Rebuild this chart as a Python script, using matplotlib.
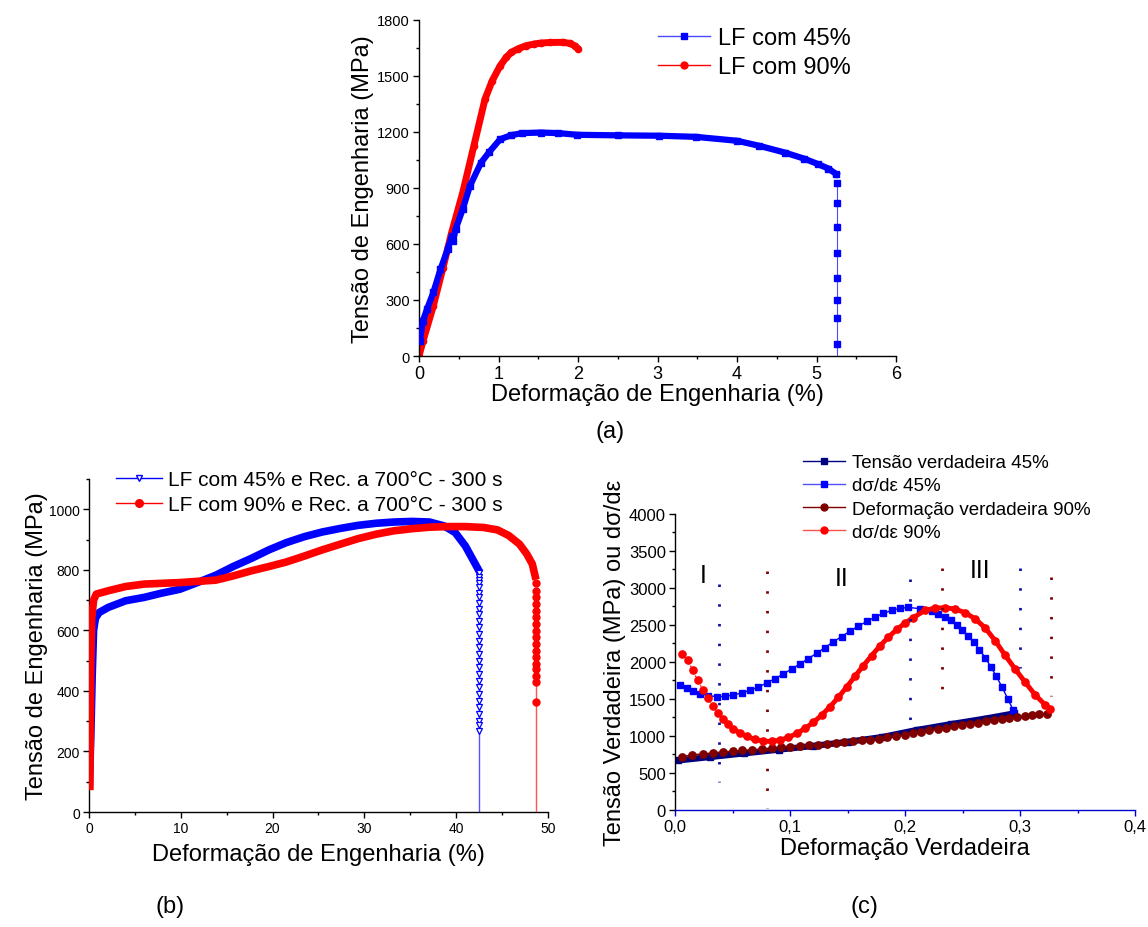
import matplotlib
matplotlib.use('Agg')
import matplotlib.pyplot as plt
from matplotlib.lines import Line2D
from matplotlib.ticker import MultipleLocator, FuncFormatter

plt.rcParams['font.family'] = ['Liberation Sans', 'DejaVu Sans']

# ---------------- (a) laminado a frio ----------------
strain_45 = [0.01, 0.05, 0.1, 0.18, 0.27, 0.36, 0.41, 0.43, 0.46, 0.55, 0.64, 0.78, 0.88,
             1.02, 1.16, 1.3, 1.53, 1.75, 1.99, 2.5, 3.02, 3.48, 4.0, 4.28, 4.6, 4.84,
             5.02, 5.15, 5.25]
stress_45 = [80, 190, 250, 340, 464, 571, 640, 615, 679, 786, 910, 1035, 1090,
             1160, 1182, 1193, 1196, 1193, 1184, 1181, 1179, 1173, 1152, 1125, 1089, 1057,
             1027, 1003, 973]
drop_45_strain = 5.26
drop_45_stress = [924, 821, 689, 550, 420, 300, 202, 62]

strain_90 = [0.0, 0.05, 0.18, 0.3, 0.41, 0.55, 0.69, 0.83, 0.92, 1.02, 1.1, 1.16, 1.25,
             1.34, 1.45, 1.53, 1.65, 1.81, 1.9, 1.96, 2.0]
stress_90 = [0, 80, 268, 470, 660, 875, 1125, 1375, 1473, 1553, 1600, 1625, 1645,
             1660, 1670, 1675, 1678, 1679, 1673, 1660, 1645]

# ---------------- (b) recozido 700 C - 300 s ----------------
strain_45r = [0.05, 0.2, 0.35, 0.5, 0.7, 1.1, 2.1, 4.0, 6.0, 7.9, 9.9, 11.8, 13.8, 15.7,
              17.7, 19.6, 21.5, 23.5, 25.4, 27.4, 29.3, 31.3, 33.2, 35.2, 37.1, 38.7,
              39.9, 41.0, 41.8, 42.4]
stress_45r = [100, 250, 450, 600, 640, 659, 676, 698, 709, 723, 736, 758, 782, 811,
              838, 866, 890, 910, 925, 937, 947, 954, 958, 960, 958, 945,
              923, 879, 835, 802]
drop_45r_strain = 42.45
drop_45r_stress = [790, 778, 767, 756, 742, 725, 709, 692, 672, 653, 632, 610, 588, 566,
                   544, 522, 500, 478, 456, 434, 412, 390, 368, 346, 324, 302, 286, 269]

strain_90r = [0.1, 0.15, 0.2, 0.3, 0.5, 0.8, 2.1, 4.0, 6.0, 9.9, 13.8, 15.7, 17.7,
              19.6, 21.5, 23.5, 25.4, 27.4, 29.3, 31.3, 33.2, 35.2, 37.1, 39.1, 41.0,
              43.0, 44.5, 45.7, 46.9, 47.7, 48.3, 48.6]
stress_90r = [85, 300, 500, 640, 700, 720, 731, 745, 753, 758, 766, 780, 797,
              811, 826, 846, 866, 885, 903, 918, 929, 936, 941, 943, 943,
              940, 932, 914, 885, 852, 819, 780]
drop_90r_strain = 48.7
drop_90r_stress = [758, 731, 709, 687, 665, 643, 621, 599, 577, 555, 533, 511, 489, 473,
                   451, 429, 363]

# ---------------- (c) tensao verdadeira e taxa de encruamento ----------------
true_strain_45 = [0.003, 0.03, 0.06, 0.09, 0.12, 0.15, 0.18, 0.21, 0.24, 0.27, 0.295]
true_stress_45 = [670, 715, 765, 815, 865, 920, 985, 1080, 1160, 1235, 1305]

rate_strain_45 = [0.0043, 0.0101, 0.0159, 0.0217, 0.029, 0.0362, 0.0435, 0.0507, 0.058,
                  0.0652, 0.0725, 0.0797, 0.087, 0.0942, 0.1014, 0.1087, 0.1159, 0.1232,
                  0.1304, 0.1377, 0.1449, 0.1522, 0.1594, 0.1667, 0.1739, 0.1812, 0.1884,
                  0.1957, 0.2029, 0.213, 0.2232, 0.229, 0.2348, 0.2397, 0.2449, 0.2499,
                  0.2545, 0.2597, 0.2646, 0.2696, 0.2745, 0.2794, 0.2843, 0.2893, 0.2942]
rate_45 = [1689, 1649, 1603, 1572, 1545, 1531, 1536, 1554, 1581,
           1617, 1662, 1716, 1775, 1838, 1906, 1973, 2046, 2118,
           2195, 2272, 2344, 2417, 2484, 2547, 2606, 2656, 2697,
           2724, 2737, 2720, 2688, 2652, 2607, 2561, 2498, 2426,
           2349, 2268, 2168, 2060, 1938, 1807, 1662, 1504, 1346]

true_strain_90 = [0.0064, 0.0151, 0.0246, 0.0333, 0.042, 0.0501, 0.0586, 0.067, 0.0754,
                  0.0841, 0.0922, 0.1003, 0.1084, 0.1165, 0.1246, 0.1322, 0.1397, 0.1472,
                  0.1551, 0.1623, 0.1699, 0.1771, 0.1843, 0.1919, 0.2, 0.2067, 0.214,
                  0.2212, 0.2284, 0.2354, 0.2426, 0.2496, 0.2565, 0.2635, 0.2701, 0.2771,
                  0.284, 0.2907, 0.2974, 0.3041, 0.3104, 0.3168, 0.3232]
true_stress_90 = [722, 745, 759, 772, 786, 795, 804, 813, 822,
                  831, 845, 854, 863, 872, 881, 894, 903, 917,
                  931, 940, 949, 962, 980, 1003, 1011, 1034, 1052,
                  1075, 1089, 1107, 1130, 1143, 1166, 1179, 1197, 1211,
                  1229, 1243, 1256, 1269, 1278, 1292, 1301]

rate_strain_90 = [0.0064, 0.011, 0.0154, 0.0197, 0.0241, 0.0284, 0.0328, 0.0371, 0.0414,
                  0.0458, 0.0507, 0.0565, 0.0623, 0.0696, 0.0768, 0.0841, 0.0913, 0.0986,
                  0.1058, 0.113, 0.1203, 0.1275, 0.1348, 0.142, 0.1493, 0.1565, 0.1638,
                  0.171, 0.1783, 0.1855, 0.1928, 0.2, 0.2072, 0.2174, 0.2261, 0.2348,
                  0.2435, 0.2522, 0.2609, 0.2696, 0.2783, 0.287, 0.2957, 0.3043, 0.313,
                  0.3217, 0.326]
rate_90 = [2114, 2032, 1888, 1752, 1626, 1513, 1409, 1310, 1229,
           1160, 1097, 1039, 994, 953, 930, 926, 944, 980,
           1034, 1102, 1183, 1282, 1395, 1522, 1662, 1807, 1951,
           2087, 2218, 2335, 2439, 2525, 2600, 2697, 2729, 2733,
           2715, 2666, 2584, 2462, 2290, 2091, 1906, 1730, 1558,
           1423, 1364]

# limites dos estagios (x, y inferior, y superior)
stage_45 = [(0.038, 380, 3050), (0.204, 985, 3120), (0.300, 1920, 3265)]
stage_90 = [(0.080, 20, 3230), (0.232, 1400, 3274), (0.327, 1545, 3152)]
stage_names = ['I', 'II', 'III']
stage_label_x = [0.0244, 0.145, 0.265]
stage_label_y = [3175, 3129, 3243]

BLUE = '#0000ff'
RED = '#ff0000'
NAVY = '#000080'
DARKRED = '#800000'


def style_axis(ax, xfs, yfs):
    for s in ['top', 'right']:
        ax.spines[s].set_visible(False)
    for s in ['left', 'bottom']:
        ax.spines[s].set_linewidth(1.0)
    ax.tick_params(which='major', direction='out', length=4, width=1, pad=2.5)
    ax.tick_params(which='minor', direction='out', length=2.2, width=1)
    ax.tick_params(axis='x', labelsize=xfs)
    ax.tick_params(axis='y', labelsize=yfs)


fig = plt.figure(figsize=(11.48, 9.28), dpi=100)

# ---------- (a)
ax_a = fig.add_axes([0.3650, 0.6153, 0.4155, 0.3624])
ax_a.plot(strain_90, stress_90, color=RED, lw=5, solid_capstyle='round', zorder=2)
ax_a.plot(strain_90, stress_90, 'o', color=RED, ms=4.5, zorder=2)
ax_a.plot(strain_45, stress_45, color=BLUE, lw=4.5, zorder=3)
ax_a.plot(strain_45, stress_45, 's', color=BLUE, ms=4, zorder=3)
ax_a.plot([drop_45_strain] * (len(drop_45_stress) + 1), drop_45_stress + [0],
          color='#4a4aff', lw=0.8, zorder=3)
ax_a.plot([drop_45_strain] * len(drop_45_stress), drop_45_stress, 's', color=BLUE, ms=4,
          zorder=3)
ax_a.set_xlim(0, 6)
ax_a.set_ylim(0, 1800)
ax_a.xaxis.set_major_locator(MultipleLocator(1))
ax_a.xaxis.set_minor_locator(MultipleLocator(0.5))
ax_a.yaxis.set_major_locator(MultipleLocator(300))
ax_a.yaxis.set_minor_locator(MultipleLocator(150))
style_axis(ax_a, 13, 10.5)
ax_a.set_xlabel('Deformação de Engenharia (%)', fontsize=17, labelpad=1)
ax_a.set_ylabel('Tensão de Engenharia (MPa)', fontsize=17, labelpad=2)
leg_a = [Line2D([], [], color='#4a4aff', lw=1, marker='s', mfc=BLUE, mec=BLUE, ms=4.5,
                label='LF com 45%'),
         Line2D([], [], color=RED, lw=1, marker='o', ms=5, label='LF com 90%')]
ax_a.legend(handles=leg_a, loc='upper left', bbox_to_anchor=(0.5732, 0.9694),
            bbox_transform=fig.transFigure, frameon=False, borderpad=0, borderaxespad=0,
            fontsize=17, handlelength=2.2, handletextpad=0.34, labelspacing=0.29)
fig.text(0.531, 0.534, '(a)', fontsize=17, ha='center', va='center')

# ---------- (b)
ax_b = fig.add_axes([0.0775, 0.1239, 0.3998, 0.3588])
ax_b.plot(strain_45r, stress_45r, color=BLUE, lw=5.5, zorder=2)
ax_b.plot([drop_45r_strain] * (len(drop_45r_stress) + 1), drop_45r_stress + [0],
          color='#5555ff', lw=1, zorder=2)
ax_b.plot([drop_45r_strain] * len(drop_45r_stress), drop_45r_stress, 'v', mfc='white',
          mec=BLUE, ms=5, mew=0.9, zorder=2)
ax_b.plot(strain_90r, stress_90r, color=RED, lw=5.5, zorder=3)
ax_b.plot([drop_90r_strain] * (len(drop_90r_stress) + 1), drop_90r_stress + [0],
          color='#ff5555', lw=1, zorder=3)
ax_b.plot([drop_90r_strain] * len(drop_90r_stress), drop_90r_stress, 'o', color=RED,
          ms=5, zorder=3)
ax_b.set_xlim(0, 50)
ax_b.set_ylim(0, 1100)
ax_b.xaxis.set_major_locator(MultipleLocator(10))
ax_b.xaxis.set_minor_locator(MultipleLocator(5))
ax_b.set_yticks([0, 200, 400, 600, 800, 1000])
ax_b.yaxis.set_minor_locator(MultipleLocator(100))
style_axis(ax_b, 10, 10)
ax_b.set_xlabel('Deformação de Engenharia (%)', fontsize=17, labelpad=6)
ax_b.set_ylabel('Tensão de Engenharia (MPa)', fontsize=17, labelpad=0.5)
leg_b = [Line2D([], [], color=BLUE, lw=1, marker='v', mfc='white', mec=BLUE, ms=5,
                label='LF com 45% e Rec. a 700°C - 300 s'),
         Line2D([], [], color=RED, lw=1, marker='o', ms=5.5,
                label='LF com 90% e Rec. a 700°C - 300 s')]
ax_b.legend(handles=leg_b, loc='upper left', bbox_to_anchor=(0.101, 0.4924),
            bbox_transform=fig.transFigure, frameon=False, borderpad=0, borderaxespad=0,
            fontsize=15, handlelength=2.2, handletextpad=0.29, labelspacing=0.29)
fig.text(0.148, 0.023, '(b)', fontsize=17, ha='center', va='center')

# ---------- (c)
ax_c = fig.add_axes([0.588, 0.1261, 0.4007, 0.3190])
ax_c.plot(true_strain_45, true_stress_45, color=NAVY, lw=4.5, zorder=2)
ax_c.plot(true_strain_45, true_stress_45, 's', color=NAVY, ms=4.5, zorder=2)
ax_c.plot(rate_strain_45, rate_45, '-s', color=BLUE, lw=1, ms=4.6, zorder=3)
ax_c.plot(true_strain_90, true_stress_90, '-o', color=DARKRED, lw=1, ms=5.3, zorder=4)
ax_c.plot(rate_strain_90[10:], rate_90[10:], '-', color=RED, lw=3.5, zorder=5)
ax_c.plot(rate_strain_90, rate_90, ':o', color=RED, lw=1, ms=5.2, zorder=5)
for x, y0, y1 in stage_45:
    ax_c.plot([x, x], [y1, y0], color='#1010a0', lw=2,
              linestyle=(0, (0.9, 6.2)), solid_capstyle='butt', zorder=6)
for x, y0, y1 in stage_90:
    ax_c.plot([x, x], [y1, y0], color=DARKRED, lw=2,
              linestyle=(0, (0.9, 6.2)), solid_capstyle='butt', zorder=6)
for name, lx, ly in zip(stage_names, stage_label_x, stage_label_y):
    ax_c.text(lx, ly, name, fontsize=18, ha='center', va='center')
ax_c.set_xlim(0, 0.4)
ax_c.set_ylim(0, 4000)
ax_c.xaxis.set_major_locator(MultipleLocator(0.1))
ax_c.xaxis.set_minor_locator(MultipleLocator(0.05))
ax_c.yaxis.set_major_locator(MultipleLocator(500))
ax_c.yaxis.set_minor_locator(MultipleLocator(250))
ax_c.xaxis.set_major_formatter(FuncFormatter(lambda v, p: f'{v:.1f}'.replace('.', ',')))
style_axis(ax_c, 12, 12)
ax_c.spines['bottom'].set_color('#0000cc')
ax_c.tick_params(axis='x', which='both', color='#0000cc')
ax_c.set_xlabel('Deformação Verdadeira', fontsize=17, labelpad=2)
ax_c.set_ylabel('Tensão Verdadeira (MPa) ou dσ/dε', fontsize=17, labelpad=2)
leg_c = [Line2D([], [], color=NAVY, lw=1, marker='s', ms=4.5, label='Tensão verdadeira 45%'),
         Line2D([], [], color='#5050ff', lw=1, marker='s', mfc=BLUE, mec=BLUE, ms=4.5,
                label='dσ/dε 45%'),
         Line2D([], [], color=DARKRED, lw=1, marker='o', ms=5,
                label='Deformação verdadeira 90%'),
         Line2D([], [], color='#ff5050', lw=1, marker='o', mfc=RED, mec=RED, ms=5,
                label='dσ/dε 90%')]
ax_c.legend(handles=leg_c, loc='upper left', bbox_to_anchor=(0.6995, 0.5095),
            bbox_transform=fig.transFigure, frameon=False, borderpad=0, borderaxespad=0,
            fontsize=13.5, handlelength=2.24, handletextpad=0.37, labelspacing=0.32)
fig.text(0.753, 0.023, '(c)', fontsize=17, ha='center', va='center')

fig.savefig('out.png', dpi=100)
